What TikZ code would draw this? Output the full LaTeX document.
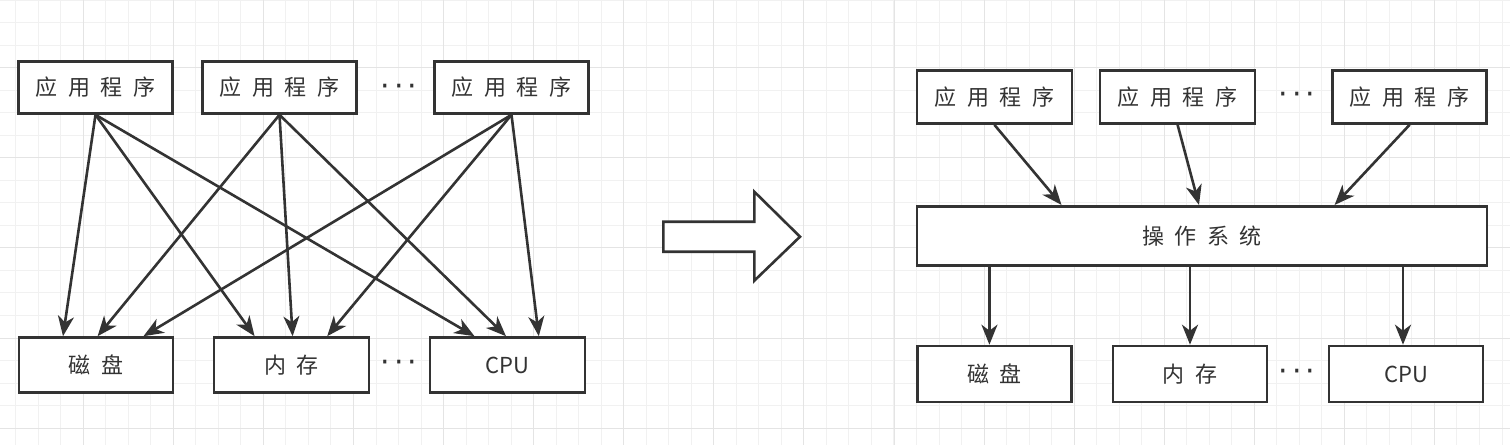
\documentclass[tikz,border=0pt]{standalone}
\usepackage{fontspec}
\setmainfont{Noto Sans CJK SC}
\newfontfamily\dotfont{DejaVu Sans}
\usetikzlibrary{arrows.meta}
\definecolor{ink}{RGB}{51,51,51}
\definecolor{gridminor}{RGB}{241,241,241}
\definecolor{gridmajor}{RGB}{228,228,228}
\newcommand\lgap{\hspace{10.5pt}}
\newcommand\dotrow{{\dotfont ·\hspace{4pt}·\hspace{4pt}·}}
\begin{document}
\begin{tikzpicture}[x=1pt,y=-1pt,
  box/.style={draw=ink, line width=2.6pt, fill=white, inner sep=0pt,
    font=\fontsize{22}{25}\selectfont, text=ink},
  dotsnode/.style={inner sep=0pt, font=\fontsize{30}{32}\selectfont, text=ink},
  arr/.style={draw=ink, line width=2.6pt, -{Stealth[length=20pt,width=16pt,inset=6pt]}},
]
\useasboundingbox (0,0) rectangle (1510,445);
\fill[white] (0,0) rectangle (1510,445);
% grid
\foreach \k in {0,...,66} \draw[gridminor, line width=1pt] ({15.7+22.52*\k},0) -- ({15.7+22.52*\k},445);
\foreach \k in {0,...,19} \draw[gridminor, line width=1pt] (0,{0.2+22.52*\k}) -- (1510,{0.2+22.52*\k});
\foreach \k in {0,...,16} \draw[gridmajor, line width=1pt] ({83.3+90.08*\k},0) -- ({83.3+90.08*\k},445);
\foreach \k in {0,...,4} \draw[gridmajor, line width=1pt] (0,{67.8+90.08*\k}) -- (1510,{67.8+90.08*\k});

% ---------- left ----------
\node[box, minimum width=154, minimum height=52] (appL1) at (95.5,87.5) {应\lgap 用\lgap 程\lgap 序};
\node[box, minimum width=154, minimum height=52] (appL2) at (279.5,87.5) {应\lgap 用\lgap 程\lgap 序};
\node[box, minimum width=154, minimum height=52] (appL3) at (511.5,87.5) {应\lgap 用\lgap 程\lgap 序};
\node[dotsnode] (dotsLT) at (399,90) {\dotrow};

\node[box, minimum width=154, minimum height=55] (diskL) at (96,365) {磁\lgap 盘};
\node[box, minimum width=155, minimum height=55] (memL) at (291.6,365) {内\lgap 存};
\node[box, minimum width=155, minimum height=55] (cpuL) at (507.5,365) {CPU};
\node[dotsnode] (dotsLB) at (399,366) {\dotrow};

\draw[arr] (appL1.south) -- ([xshift=-33pt]diskL.north);
\draw[arr] (appL1.south) -- ([xshift=-37pt]memL.north);
\draw[arr] (appL1.south) -- ([xshift=-33pt]cpuL.north);
\draw[arr] (appL2.south) -- ([xshift=1.6pt]diskL.north);
\draw[arr] (appL2.south) -- ([xshift=1pt]memL.north);
\draw[arr] (appL2.south) -- ([xshift=-1.5pt]cpuL.north);
\draw[arr] (appL3.south) -- ([xshift=47.5pt]diskL.north);
\draw[arr] (appL3.south) -- ([xshift=35.6pt]memL.north);
\draw[arr] (appL3.south) -- ([xshift=31.3pt]cpuL.north);

% ---------- big arrow ----------
\draw[ink, line width=2.6pt, fill=white, line join=miter]
  (663.3,221.7) -- (754.3,221.7) -- (754.3,191.7) -- (800,236.7)
  -- (754.3,280.7) -- (754.3,251.7) -- (663.3,251.7) -- cycle;

% ---------- right ----------
\node[box, minimum width=155, minimum height=53] (appR1) at (994.4,97) {应\lgap 用\lgap 程\lgap 序};
\node[box, minimum width=155, minimum height=53] (appR2) at (1177.6,97) {应\lgap 用\lgap 程\lgap 序};
\node[box, minimum width=154, minimum height=53] (appR3) at (1409.6,97) {应\lgap 用\lgap 程\lgap 序};
\node[dotsnode] (dotsRT) at (1297,98) {\dotrow};

\node[box, minimum width=570, minimum height=59.5] (os) at (1202,236) {操\lgap 作\lgap 系\lgap 统};

\node[box, minimum width=154, minimum height=56] (diskR) at (994.4,374) {磁\lgap 盘};
\node[box, minimum width=154, minimum height=56] (memR) at (1190,374) {内\lgap 存};
\node[box, minimum width=154, minimum height=56] (cpuR) at (1406,374) {CPU};
\node[dotsnode] (dotsRB) at (1297,375) {\dotrow};

\draw[arr] (appR1.south) -- ([xshift=-140.5pt]os.north);
\draw[arr] (appR2.south) -- ([xshift=-3pt]os.north);
\draw[arr] (appR3.south) -- ([xshift=132.6pt]os.north);

\coordinate (tD) at ([xshift=-5pt]diskR.north);
\coordinate (tM) at (memR.north);
\coordinate (tC) at ([xshift=-3pt]cpuR.north);
\draw[arr] (tD |- os.south) -- (tD);
\draw[arr] (tM |- os.south) -- (tM);
\draw[arr] (tC |- os.south) -- (tC);
\end{tikzpicture}
\end{document}
